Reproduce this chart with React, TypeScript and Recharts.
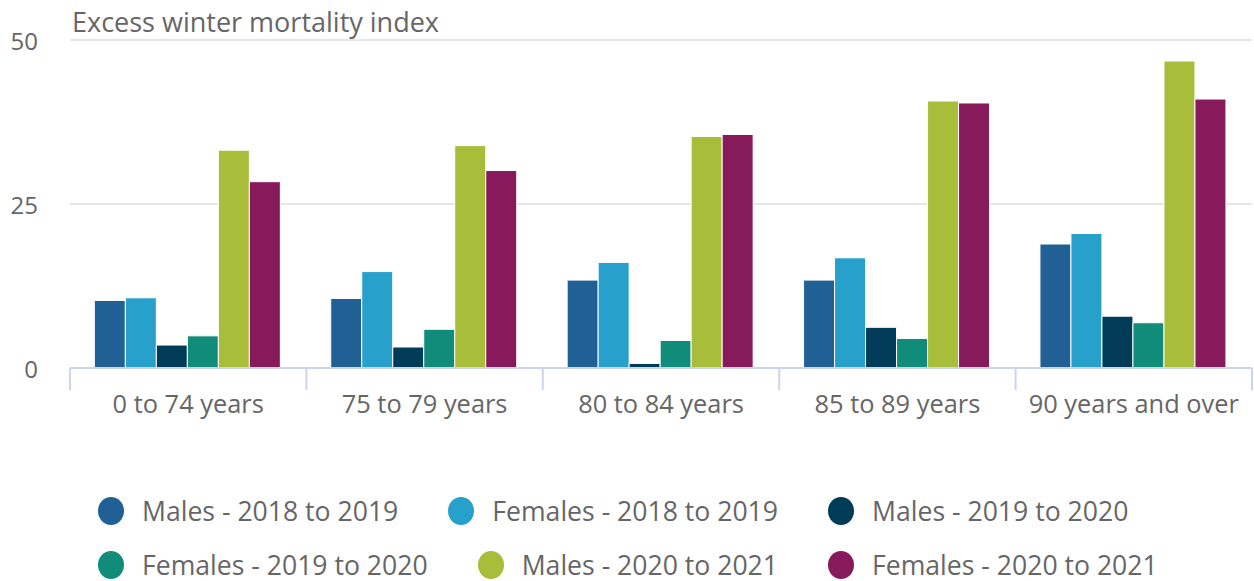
import { Bar, BarChart, CartesianGrid, XAxis, YAxis } from 'recharts';

const ageGroups = ['0 to 74 years', '75 to 79 years', '80 to 84 years', '85 to 89 years', '90 years and over'];

const males1819 = [10.3, 10.6, 13.4, 13.4, 18.9];
const females1819 = [10.7, 14.7, 16.1, 16.8, 20.5];
const males1920 = [3.5, 3.2, 0.7, 6.2, 7.9];
const females1920 = [4.9, 5.9, 4.2, 4.5, 6.9];
const males2021 = [33.2, 33.9, 35.3, 40.7, 46.8];
const females2021 = [28.4, 30.1, 35.6, 40.4, 41.0];

const yTicks = [0, 25, 50];

const series = [
  { key: 'm1819', name: 'Males - 2018 to 2019', color: '#206095', values: males1819 },
  { key: 'f1819', name: 'Females - 2018 to 2019', color: '#27a0cc', values: females1819 },
  { key: 'm1920', name: 'Males - 2019 to 2020', color: '#003c57', values: males1920 },
  { key: 'f1920', name: 'Females - 2019 to 2020', color: '#118c7b', values: females1920 },
  { key: 'm2021', name: 'Males - 2020 to 2021', color: '#a8bd3a', values: males2021 },
  { key: 'f2021', name: 'Females - 2020 to 2021', color: '#871a5b', values: females2021 },
];

const data = ageGroups.map((name, i) => {
  const row: Record<string, string | number> = { name };
  series.forEach(s => {
    row[s.key] = s.values[i];
  });
  return row;
});

const WIDTH = 1254;
const HEIGHT = 581;
const LEFT = 70;
const RIGHT = 2;
const band = (WIDTH - LEFT - RIGHT) / ageGroups.length;
const font = '"Open Sans", sans-serif';
const textColor = '#666666';
const axisColor = '#ccd6eb';

function XTick(props: any) {
  const { x, y, payload, index } = props;
  const left = x - band / 2;
  const right = x + band / 2;
  return (
    <g>
      <line x1={left} x2={left} y1={y} y2={y + 22} stroke={axisColor} strokeWidth={2} />
      {index === ageGroups.length - 1 && (
        <line x1={right} x2={right} y1={y} y2={y + 22} stroke={axisColor} strokeWidth={2} />
      )}
      <text x={x} y={y + 45} textAnchor="middle" fill={textColor} fontSize={25.4} fontFamily={font}>
        {payload.value}
      </text>
    </g>
  );
}

function YTick(props: any) {
  const { y, payload } = props;
  return (
    <text x={38} y={y + 10} textAnchor="end" fill={textColor} fontSize={24} fontFamily={font}>
      {payload.value}
    </text>
  );
}

export default function App() {
  const rows = [series.slice(0, 3), series.slice(3, 6)];
  return (
    <div style={{ position: 'absolute', left: 0, top: 0, width: WIDTH, height: HEIGHT, background: '#fff' }}>
      <BarChart
        width={WIDTH}
        height={HEIGHT}
        data={data}
        margin={{ top: 40, right: RIGHT, left: 0, bottom: 0 }}
        barCategoryGap="10.3%"
        barGap={0}
      >
        <CartesianGrid vertical={false} stroke="#e6e6e6" strokeWidth={2} />
        <XAxis
          dataKey="name"
          height={HEIGHT - 368}
          axisLine={{ stroke: axisColor, strokeWidth: 2 }}
          tickLine={false}
          tickSize={0}
          tickMargin={0}
          interval={0}
          tick={<XTick />}
        />
        <YAxis
          width={LEFT}
          domain={[0, 50]}
          ticks={yTicks}
          axisLine={false}
          tickLine={false}
          tick={<YTick />}
        />
        {series.map(s => (
          <Bar
            key={s.key}
            dataKey={s.key}
            name={s.name}
            fill={s.color}
            stroke="#ffffff"
            strokeWidth={1}
            isAnimationActive={false}
          />
        ))}
      </BarChart>
      <div
        style={{
          position: 'absolute',
          left: 72,
          top: 3,
          fontFamily: font,
          fontSize: 27,
          color: textColor,
          whiteSpace: 'nowrap',
        }}
      >
        Excess winter mortality index
      </div>
      {rows.map((row, r) => (
        <div
          key={r}
          style={{
            position: 'absolute',
            left: 98,
            top: 492 + r * 54,
            height: 38,
            display: 'flex',
            alignItems: 'center',
            gap: 50,
            fontFamily: font,
            fontSize: 26.6,
            color: textColor,
            whiteSpace: 'nowrap',
          }}
        >
          {row.map(s => (
            <div key={s.key} style={{ display: 'flex', alignItems: 'center' }}>
              <span
                style={{
                  display: 'inline-block',
                  width: 26,
                  height: 28,
                  borderRadius: '50%',
                  background: s.color,
                  marginRight: 18,
                }}
              />
              <span>{s.name}</span>
            </div>
          ))}
        </div>
      ))}
    </div>
  );
}
